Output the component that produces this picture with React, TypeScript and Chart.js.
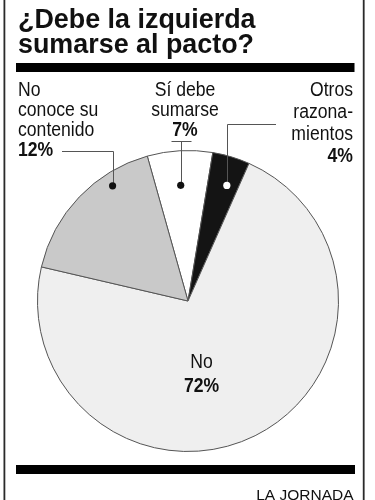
import React, { useEffect, useRef } from "react";
import { Chart, registerables } from "chart.js";

Chart.register(...registerables);

// ---- data ----
const categories = ["Sí debe sumarse", "Otros razonamientos", "No", "No conoce su contenido"];
// slice sizes as drawn in the picture (share of the full circle, %)
const sliceShares = [7, 4, 72, 17];
// percentages printed on the labels
const printedPercents = [7, 4, 72, 12];
const labelLines = [
  ["Sí debe", "sumarse"],
  ["Otros", "razona-", "mientos"],
  ["No"],
  ["No", "conoce su", "contenido"],
];
const sliceColors = ["#ffffff", "#141414", "#efefef", "#c9c9c9"];
const titleLines = ["¿Debe la izquierda", "sumarse al pacto?"];
const credit = "LA JORNADA";

const FONT = "'Liberation Sans', Arial, Helvetica, sans-serif";
const COND = 0.88;

function drawText(
  ctx: CanvasRenderingContext2D,
  text: string,
  x: number,
  y: number,
  font: string,
  align: CanvasTextAlign,
  sx: number,
  color = "#111"
) {
  ctx.save();
  ctx.translate(x, y);
  ctx.scale(sx, 1);
  ctx.font = font;
  ctx.fillStyle = color;
  ctx.textAlign = align;
  ctx.textBaseline = "alphabetic";
  ctx.fillText(text, 0, 0);
  ctx.restore();
}

type LabelLayout = {
  x: number;
  baselines: number[];
  align: CanvasTextAlign;
  dot?: { frac: number; rfrac: number; fill: string };
  leader?: "tick" | "right" | "left";
  leaderY?: number;
  leaderEnd?: number;
};

const layouts: LabelLayout[] = [
  { x: 185, baselines: [96, 116, 136], align: "center", dot: { frac: 0.48, rfrac: 0.77, fill: "#111" }, leader: "tick", leaderY: 141.5 },
  { x: 353, baselines: [96, 118, 140, 162], align: "right", dot: { frac: 0.63, rfrac: 0.81, fill: "#ffffff" }, leader: "right", leaderY: 124.5, leaderEnd: 276 },
  { x: 201.5, baselines: [368, 392], align: "center" },
  { x: 18, baselines: [96, 116, 136, 156], align: "left", dot: { frac: 0.714, rfrac: 0.915, fill: "#111" }, leader: "left", leaderY: 151.5, leaderEnd: 62 },
];

const decorPlugin = {
  id: "decor",
  beforeDraw(chart: any) {
    const ctx: CanvasRenderingContext2D = chart.ctx;
    ctx.save();
    ctx.fillStyle = "#ffffff";
    ctx.fillRect(0, 0, chart.width, chart.height);
    // frame side lines
    ctx.fillStyle = "#2a2a2a";
    ctx.fillRect(3.5, 0, 1.8, chart.height);
    ctx.fillRect(362.8, 0, 1.8, chart.height);
    // rules
    ctx.fillStyle = "#000";
    ctx.fillRect(16, 63, 338.5, 9);
    ctx.fillRect(16, 465, 339, 9);
    ctx.restore();
    // title
    drawText(ctx, titleLines[0], 18, 28, `bold 28px ${FONT}`, "left", 0.96);
    drawText(ctx, titleLines[1], 18, 53, `bold 28px ${FONT}`, "left", 0.96);
    // credit
    drawText(ctx, credit, 353.5, 499.5, `15.5px ${FONT}`, "right", 1);
  },
  afterDraw(chart: any) {
    const ctx: CanvasRenderingContext2D = chart.ctx;
    const arcs = chart.getDatasetMeta(0).data;
    layouts.forEach((lay, i) => {
      const lines = labelLines[i];
      lines.forEach((t, j) => {
        drawText(ctx, t, lay.x, lay.baselines[j], `20px ${FONT}`, lay.align, COND);
      });
      drawText(ctx, printedPercents[i] + "%", lay.x, lay.baselines[lines.length], `bold 20px ${FONT}`, lay.align, COND);

      if (lay.dot) {
        const arc = arcs[i];
        const p = arc.getProps(["x", "y", "startAngle", "endAngle", "outerRadius"], true);
        const ang = p.startAngle + (p.endAngle - p.startAngle) * lay.dot.frac;
        const r = p.outerRadius * lay.dot.rfrac;
        const dx = p.x + Math.cos(ang) * r;
        const dy = p.y + Math.sin(ang) * r;
        const lx = Math.round(dx) + 0.5;
        ctx.save();
        ctx.strokeStyle = "#555";
        ctx.lineWidth = 1;
        ctx.beginPath();
        if (lay.leader === "tick") {
          ctx.moveTo(lx - 10, lay.leaderY!);
          ctx.lineTo(lx + 10, lay.leaderY!);
          ctx.moveTo(lx, lay.leaderY!);
          ctx.lineTo(lx, dy);
        } else {
          ctx.moveTo(lay.leaderEnd!, lay.leaderY!);
          ctx.lineTo(lx, lay.leaderY!);
          ctx.lineTo(lx, dy);
        }
        ctx.stroke();
        ctx.beginPath();
        ctx.fillStyle = lay.dot.fill;
        ctx.arc(dx, dy, 3.6, 0, Math.PI * 2);
        ctx.fill();
        ctx.restore();
      }
    });
  },
};

export default function App() {
  const ref = useRef<HTMLCanvasElement | null>(null);
  useEffect(() => {
    if (!ref.current) return;
    const chart = new Chart(ref.current, {
      type: "pie",
      data: {
        labels: categories,
        datasets: [
          {
            data: sliceShares,
            backgroundColor: sliceColors,
            borderColor: "#555555",
            borderWidth: 1,
          },
        ],
      },
      options: {
        animation: false,
        responsive: false,
        devicePixelRatio: 1,
        rotation: -15.7,
        layout: { padding: { left: 37, right: 36, top: 150, bottom: 48 } },
        plugins: {
          legend: { display: false },
          tooltip: { enabled: false },
          title: { display: false },
        },
        events: [],
      },
      plugins: [decorPlugin],
    });
    return () => chart.destroy();
  }, []);
  return (
    <div style={{ position: "absolute", left: 0, top: 0, width: 375, height: 500 }}>
      <canvas ref={ref} width={375} height={500} style={{ width: 375, height: 500, display: "block" }} />
    </div>
  );
}
